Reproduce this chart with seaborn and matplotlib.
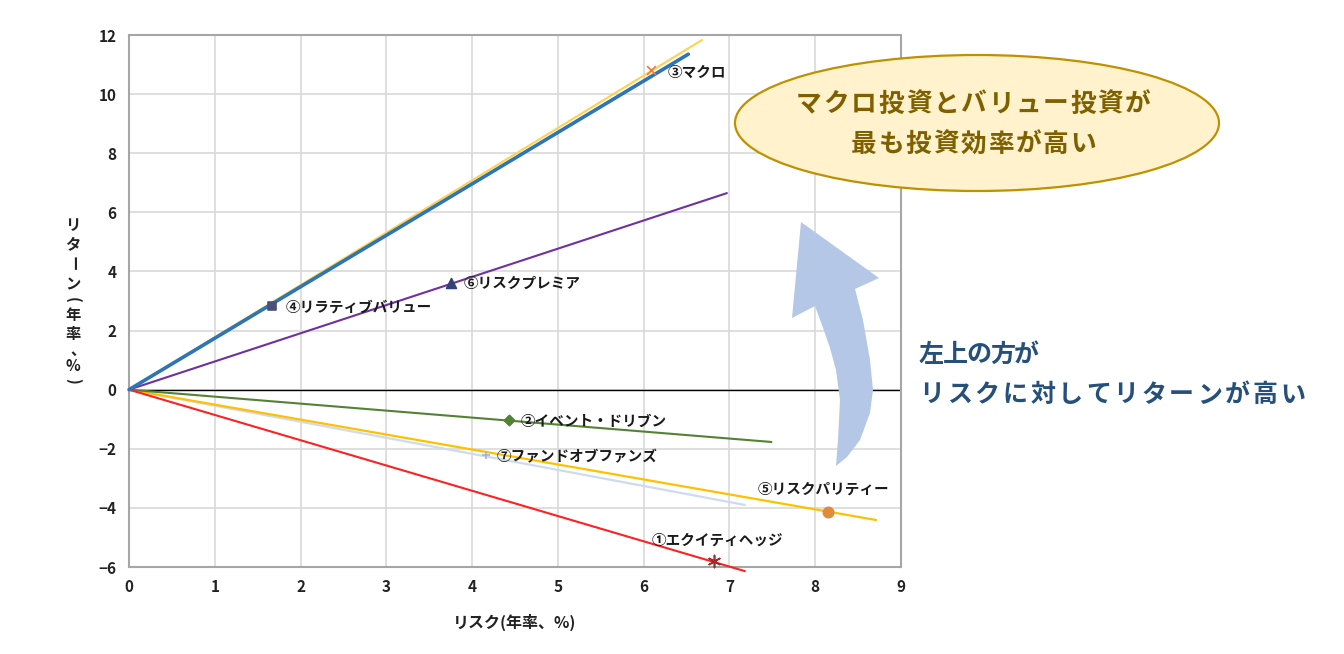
import matplotlib
matplotlib.use("Agg")
import matplotlib.pyplot as plt
import seaborn as sns
import pandas as pd
import numpy as np
from matplotlib.patches import Ellipse, Polygon

# ---------------- data ----------------
names = ["①エクイティヘッジ", "②イベント・ドリブン", "③マクロ", "④リラティブバリュー",
         "⑤リスクパリティー", "⑥リスクプレミア", "⑦ファンドオブファンズ"]
risk = [6.82, 4.43, 6.08, 1.67, 8.15, 3.75, 4.16]
ret = [-5.80, -1.03, 10.81, 2.83, -4.14, 3.61, -2.22]
marker_list = [(6, 2, 0), "D", "x", "s", "o", "^", "+"]
marker_colors = ["#A52A2A", "#548235", "#ED7D31", "#4A4F7C", "#E08A3C", "#34407A", "#9FB3DA"]

# trend lines through origin (end points)
line_names = ["①", "②", "③", "④", "⑤", "⑥", "⑦"]
line_end_x = [7.18, 7.49, 6.68, 6.52, 8.71, 6.97, 7.18]
line_end_y = [-6.14, -1.77, 11.83, 11.35, -4.41, 6.65, -3.90]
line_colors = ["#FF2020", "#548235", "#FFD24D", "#2E75B6", "#FFC000", "#7030A0", "#D0DAEF"]
line_widths = [1.5, 1.5, 1.5, 2.6, 1.6, 1.5, 1.6]

xticks = list(range(0, 10))
yticks = list(range(-6, 13, 2))

# ---------------- style ----------------
sns.set_theme(style="white")
plt.rcParams["font.family"] = ["Noto Sans CJK JP", "DejaVu Sans"]

W, H = 1344, 654
fig = plt.figure(figsize=(W / 100, H / 100), dpi=100)
ax = fig.add_axes([129 / W, 1 - 567 / H, (901 - 129) / W, (567 - 35) / H])

# lines
order = [6, 4, 1, 0, 5, 2, 3]
for i in order:
    df = pd.DataFrame({"x": [0, line_end_x[i]], "y": [0, line_end_y[i]]})
    sns.lineplot(data=df, x="x", y="y", ax=ax, color=line_colors[i],
                 linewidth=line_widths[i], zorder=3, estimator=None, sort=False)
for ln in ax.lines:
    ln.set_clip_on(False)

# markers
sizes = [75, 28, 40, 40, 55, 50, 30]
for i in range(len(names)):
    df = pd.DataFrame({"x": [risk[i]], "y": [ret[i]]})
    m = marker_list[i]
    sns.scatterplot(data=df, x="x", y="y", ax=ax, marker=m, s=sizes[i],
                    color=marker_colors[i],
                    edgecolor=marker_colors[i] if m not in ("x", "+", (6, 2, 0)) else None,
                    linewidth=1.2, zorder=5, clip_on=False)

# labels (offsets in pixels)
offsets = [(-62, 21), (12, -1), (17, -2), (13, -1), (-70, 23), (13, 0), (11, -1)]
for i in range(len(names)):
    ax.annotate(names[i], (risk[i], ret[i]), xytext=offsets[i], textcoords="offset pixels",
                ha="left", va="center", fontsize=10.5, fontweight="bold", color="#1a1a1a",
                zorder=6)

ax.set_xlim(0, 9)
ax.set_ylim(-6, 12)
ax.set_xticks(xticks)
ax.set_yticks(yticks)
ax.set_xticklabels([str(t) for t in xticks])
ax.set_yticklabels([f"−{abs(t)}" if t < 0 else str(t) for t in yticks])
ax.tick_params(axis="both", length=0, labelsize=11, colors="#222222", pad=9)
for lab in ax.get_xticklabels() + ax.get_yticklabels():
    lab.set_fontweight("bold")
ax.grid(True, color="#D9D9D9", linewidth=1.2, zorder=0)
ax.set_axisbelow(True)
for sp in ax.spines.values():
    sp.set_color("#A6A6A6")
    sp.set_linewidth(1.5)
ax.axhline(0, color="#000000", linewidth=1.0, zorder=2)
ax.set_xlabel("")
ax.set_ylabel("")

# axis titles
fig.text(515 / W, 1 - 622 / H, "リスク(年率、%)", ha="center", va="center",
         fontsize=11.5, fontweight="bold", color="#222222")
# vertical y title: (char, y pixel, rotation, x shift)
ylab_chars = ["リ", "タ", "ー", "ン", "(", "年", "率", "、", "%", ")"]
ylab_rot = [0, 0, -90, 0, -90, 0, 0, 0, 0, -90]
ylab_dx = [0, 0, 0, 0, 0, 0, 0, 5, 0, 0]
ylab_y = [225, 244, 264, 284, 300, 315, 334, 350, 366, 381]
for ch, yy, rot, dx in zip(ylab_chars, ylab_y, ylab_rot, ylab_dx):
    fig.text((73 + dx) / W, 1 - yy / H, ch, ha="center", va="center", rotation=rot,
             rotation_mode="anchor",
             fontsize=11, fontweight="bold", color="#222222")


def spaced_text(x0, y0, s, adv, **kw):
    for k, ch in enumerate(s):
        fig.text((x0 + k * adv) / W, 1 - y0 / H, ch, ha="left", va="center", **kw)


# ellipse callout
ell = Ellipse((977 / W, 1 - 123 / H), 484 / W, 136 / H, transform=fig.transFigure,
              facecolor="#FFF2CC", edgecolor="#BF9000", linewidth=1.6, zorder=10)
fig.add_artist(ell)
spaced_text(796, 104, "マクロ投資とバリュー投資が", 27.4,
            fontsize=18.5, fontweight="bold", color="#7F6000", zorder=11)
spaced_text(851, 144, "最も投資効率が高い", 27.4,
            fontsize=18.5, fontweight="bold", color="#7F6000", zorder=11)

# curved arrow
arrow_px = [(801, 222), (879, 278), (855, 289), (863, 320), (870, 360), (873, 390),
            (870, 413), (860, 440), (847, 457), (836, 466), (838, 440), (840, 400),
            (836, 370), (830, 348), (822, 325), (815, 306), (792, 318)]
arrow = Polygon([(x / W, 1 - y / H) for x, y in arrow_px], closed=True,
                transform=fig.transFigure, facecolor="#B4C7E7", edgecolor="none", zorder=9)
fig.add_artist(arrow)

spaced_text(919, 355, "左上の方が", 23.8, fontsize=18, fontweight="bold", color="#24507A")
spaced_text(919, 395, "リスクに対してリターンが高い", 27.8, fontsize=18, fontweight="bold",
            color="#24507A")

fig.savefig("out.png", dpi=100)
